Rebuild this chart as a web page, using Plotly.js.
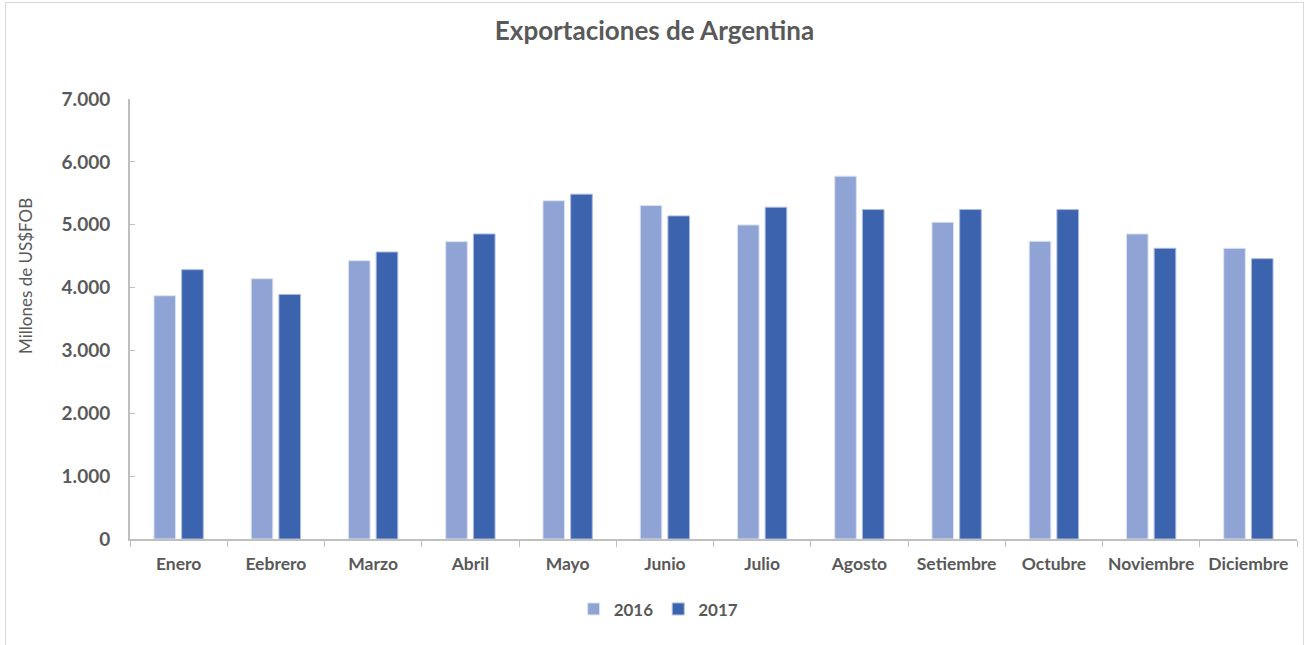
<!DOCTYPE html>
<html>
<head>
<meta charset="utf-8">
<script src="https://cdn.plot.ly/plotly-3.0.1.min.js"></script>
<style>
  html, body { margin: 0; padding: 0; background: #fff; overflow: hidden; }
  #chart { position: absolute; left: 0; top: 0; width: 1309px; height: 645px; }
  #frame { position: absolute; left: 5px; top: 2px; width: 1297px; height: 700px;
           border: 1px solid #d9d9d9; pointer-events: none; }
</style>
</head>
<body>
<div id="chart"></div>
<div id="frame"></div>
<script>
const months = ["Enero", "Eebrero", "Marzo", "Abril", "Mayo", "Junio", "Julio",
                "Agosto", "Setiembre", "Octubre", "Noviembre", "Diciembre"];
const exports2016 = [3870, 4141, 4428, 4731, 5382, 5305, 4997, 5773, 5039, 4736, 4853, 4625];
const exports2017 = [4285, 3891, 4566, 4853, 5486, 5140, 5278, 5241, 5241, 5241, 4625, 4460];
const seriesNames = ["2016", "2017"];
const yAxisTitle = "Millones de US$FOB";
const chartTitle = "Exportaciones de Argentina";

const gray = "#595959";
const fontFam = "Lato, 'Open Sans', sans-serif";

const traces = [
  { type: "bar", name: seriesNames[0], x: months, y: exports2016,
    marker: { color: "#8FA4D4", line: { color: "#DCE3F3", width: 1 } },
    hoverinfo: "x+y" },
  { type: "bar", name: seriesNames[1], x: months, y: exports2017,
    marker: { color: "#3C64AE", line: { color: "#A9BBE0", width: 1 } },
    hoverinfo: "x+y" }
];

const layout = {
  width: 1309, height: 645,
  paper_bgcolor: "#ffffff", plot_bgcolor: "#ffffff",
  separators: ",.",
  margin: { l: 130, r: 12, t: 99, b: 106 },
  barmode: "group",
  bargap: 0.43,
  bargroupgap: 0.22,
  font: { family: fontFam, color: gray },
  title: { text: "<b>" + chartTitle + "</b>", x: 0.5, xanchor: "center",
           y: 0.952, yanchor: "middle",
           font: { family: fontFam, size: 26, color: gray } },
  xaxis: {
    type: "category",
    showline: true, linecolor: "#BFBFBF", linewidth: 2,
    ticks: "outside", tickson: "boundaries", ticklen: 6, tickcolor: "#BFBFBF", tickwidth: 1,
    ticklabelstandoff: 8,
    tickfont: { family: fontFam, size: 17.5, color: gray, weight: "bold" },
    showgrid: false, zeroline: false
  },
  yaxis: {
    range: [0, 7000], dtick: 1000, tickformat: ",d",
    showline: true, linecolor: "#BFBFBF", linewidth: 2,
    ticks: "inside", ticklen: 5, tickcolor: "#BFBFBF", tickwidth: 1,
    ticklabelstandoff: 14,
    tickfont: { family: fontFam, size: 19, color: gray, weight: "bold" },
    showgrid: false, zeroline: false
  },
  annotations: [{
    text: yAxisTitle, textangle: -90, showarrow: false,
    xref: "paper", yref: "paper", x: -0.0891, y: 0.598,
    xanchor: "center", yanchor: "middle",
    font: { family: fontFam, size: 17, color: gray }
  }],
  legend: {
    orientation: "h", x: 0.453, xanchor: "center", y: -0.16, yanchor: "middle",
    font: { family: fontFam, size: 17, color: gray, weight: "bold" },
    itemwidth: 30, traceorder: "normal"
  },
  showlegend: true
};

Plotly.newPlot("chart", traces, layout, { displayModeBar: false, staticPlot: true });
</script>
</body>
</html>
